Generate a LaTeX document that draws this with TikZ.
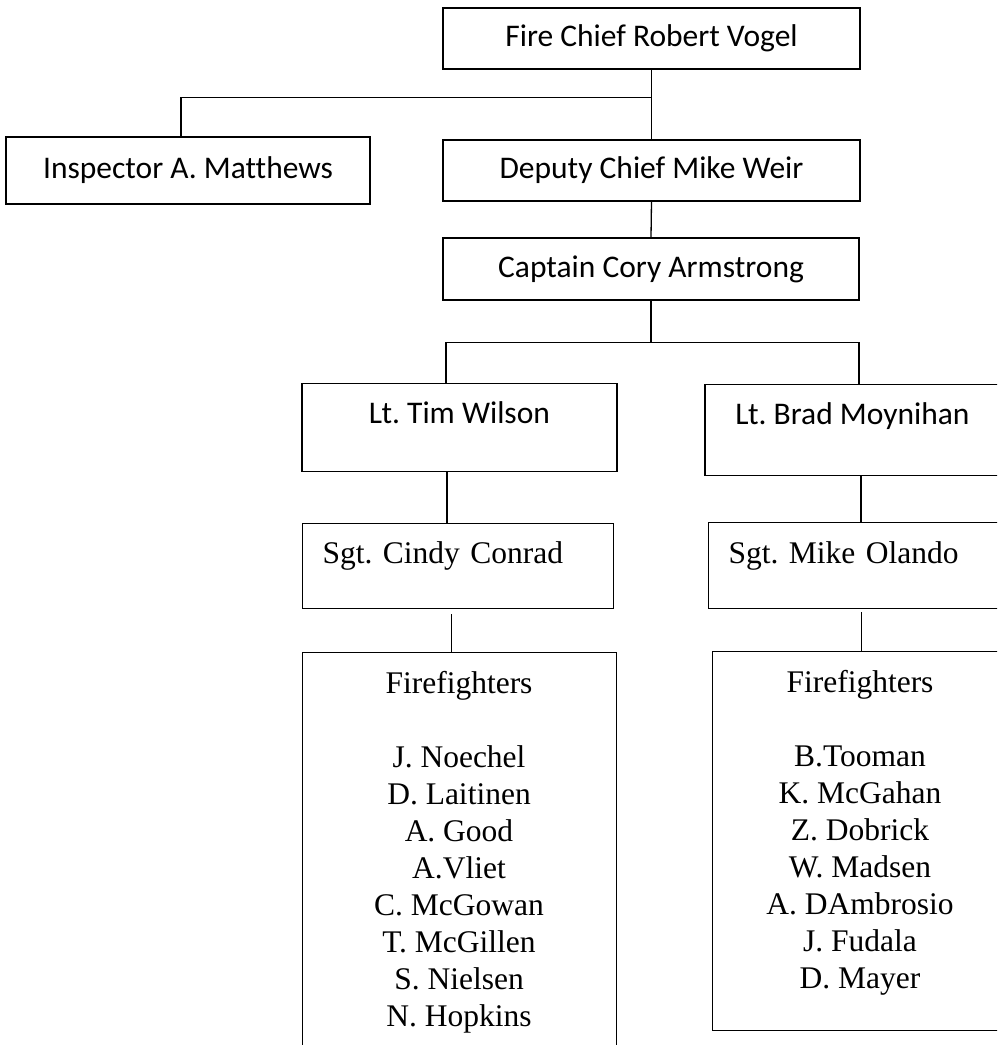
\documentclass[tikz,border=0pt]{standalone}
\usepackage{fontspec}
\setmainfont{Liberation Serif}
\newfontfamily\calfont[Ligatures=NoCommon]{Carlito}
\frenchspacing

\begin{document}
\begin{tikzpicture}[x=1pt,y=-1pt,
    topbox/.style={draw,line width=1.4pt,inner sep=0pt,font=\calfont\fontsize{31.5pt}{37pt}\selectfont},
    ltbox/.style={topbox,text height=40pt,text depth=48pt},
    sgtbox/.style={draw,line width=1pt,inner xsep=20pt,inner ysep=0pt,align=left,text height=40pt,text depth=45pt,font=\fontsize{31.5pt}{37pt}\selectfont},
    ffbox/.style={draw,line width=1pt,anchor=north},
    fftext/.style={inner sep=0pt,align=center,anchor=north,font=\fontsize{31.5pt}{37pt}\selectfont},
    link/.style={line width=1.3pt}]
  \clip (0,0) rectangle (997,1045);
  \fill[white] (0,0) rectangle (997,1045);

  % chief, inspector, deputy, captain
  \node[topbox,minimum width=417pt,minimum height=61pt] (chief) at (651.5,38.5) {Fire Chief Robert Vogel};
  \node[topbox,minimum width=364pt,minimum height=67pt] (insp) at (188,170.5) {Inspector A. Matthews};
  \node[topbox,minimum width=417pt,minimum height=61pt] (deputy) at (651.5,170.5) {Deputy Chief Mike Weir};
  \node[topbox,minimum width=416pt,minimum height=62pt] (captain) at (651,269) {Captain Cory Armstrong};

  % lieutenants
  \node[ltbox,minimum width=315pt,anchor=north] (ltw) at (459.5,383) {Lt. Tim Wilson};
  \node[ltbox,minimum width=295pt,text depth=51pt,anchor=north] (ltb) at (852.5,384) {Lt. Brad Moynihan};

  % sergeants
  \node[sgtbox,text width=271pt,anchor=north west] (sgtc) at (302,523) {Sgt. Cindy Conrad};
  \node[sgtbox,text width=262pt,text height=41pt,anchor=north west] (sgtm) at (708,522) {Sgt. Mike Olando};

  % firefighters
  \node[ffbox,minimum width=314pt,minimum height=396pt] (ffl) at (459,652) {};
  \node[fftext] (fflnames) at ([yshift=-19.5pt]ffl.north)
    {Firefighters\\[37pt]J. Noechel\\D. Laitinen\\A. Good\\A.Vliet\\C. McGowan\\T. McGillen\\S. Nielsen\\N. Hopkins};
  \node[ffbox,minimum width=296pt,minimum height=379pt] (ffr) at (860,651) {};
  \node[fftext] (ffrnames) at ([yshift=-19.5pt]ffr.north)
    {Firefighters\\[37pt]B.Tooman\\K. McGahan\\Z. Dobrick\\W. Madsen\\A. DAmbrosio\\J. Fudala\\D. Mayer};

  % connectors
  \coordinate (chiefjoin) at ([yshift=-28pt]chief.south);
  \coordinate (capjoin) at ([yshift=-42pt]captain.south);
  \draw[link] (chief.south) -- (deputy.north);
  \draw[link] (chiefjoin) -| ([xshift=-7pt]insp.north);
  \draw[link] (deputy.south) -- (captain.north);
  \draw[link] (captain.south) -- (capjoin);
  \draw[link] ([xshift=-13.5pt]ltw.north) |- ([xshift=6.5pt]ltb.north |- capjoin) -- ([xshift=6.5pt]ltb.north);
  \draw[link] ([xshift=-12.5pt]ltw.south) -- ([xshift=-12.5pt]ltw.south |- sgtc.north);
  \draw[link] ([xshift=8.5pt]ltb.south) -- ([xshift=8.5pt]ltb.south |- sgtm.north);
  \draw[link] ([xshift=-6.5pt,yshift=-5pt]sgtc.south) -- ([xshift=-6.5pt]sgtc.south |- ffl.north);
  \draw[link] ([xshift=2pt,yshift=-3pt]sgtm.south) -- ([xshift=2pt]sgtm.south |- ffr.north);
\end{tikzpicture}
\end{document}
